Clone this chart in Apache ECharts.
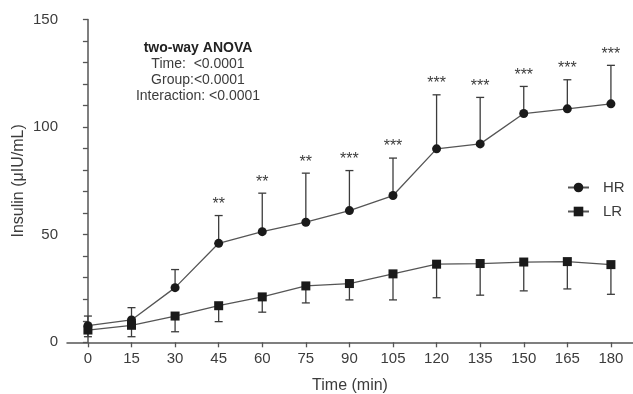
<!DOCTYPE html>
<html>
<head>
<meta charset="utf-8">
<script src="https://cdn.jsdelivr.net/npm/echarts@6/dist/echarts.min.js"></script>
<style>
  html, body { margin: 0; padding: 0; background: #fff; }
  #chart { width: 633px; height: 394px; }
</style>
</head>
<body>
<div id="chart"></div>
<script>
// sampling times (min)
const times = [0, 15, 30, 45, 60, 75, 90, 105, 120, 135, 150, 165, 180];
// HR group: mean and mean + SD
const hrMean = [7.7, 10.4, 25.4, 46.0, 51.4, 55.8, 61.2, 68.2, 89.9, 92.2, 106.3, 108.5, 110.8];
const hrUpper = [12.2, 16.1, 33.8, 58.9, 69.3, 78.6, 79.8, 85.6, 115.0, 113.8, 118.9, 122.0, 128.7];
// LR group: mean and mean - SD
const lrMean = [5.7, 7.9, 12.2, 17.0, 21.1, 26.2, 27.3, 31.8, 36.3, 36.6, 37.3, 37.5, 36.1];
const lrLower = [2.6, 2.6, 4.9, 9.6, 14.0, 18.3, 19.7, 19.7, 20.7, 21.9, 23.9, 24.8, 22.3];
// significance marks above HR
const stars = ['', '', '', '**', '**', '**', '***', '***', '***', '***', '***', '***', '***'];
const yLabels = [0, 50, 100, 150];
const anovaLines = ['Time:  <0.0001', 'Group:<0.0001', 'Interaction: <0.0001'];

const chart = echarts.init(document.getElementById('chart'));
const ink = '#3c3c3c';
const font = 'Liberation Sans, Arial, sans-serif';

function errorBar(params, api) {
  const x = api.value(0);
  const a = api.coord([x, api.value(1)]);
  const b = api.coord([x, api.value(2)]);
  const half = 4;
  return {
    type: 'group',
    children: [
      { type: 'line', shape: { x1: a[0], y1: a[1], x2: b[0], y2: b[1] }, style: { stroke: ink, lineWidth: 1.3 } },
      { type: 'line', shape: { x1: b[0] - half, y1: b[1], x2: b[0] + half, y2: b[1] }, style: { stroke: ink, lineWidth: 1.3 } }
    ]
  };
}

function starText(params, api) {
  const p = api.coord([api.value(0), api.value(1)]);
  return {
    type: 'text',
    style: {
      text: stars[params.dataIndex],
      x: p[0], y: p[1] - 11,
      align: 'center', verticalAlign: 'middle',
      fill: ink, fontSize: 16, fontFamily: font
    }
  };
}

const option = {
  animation: false,
  textStyle: { fontFamily: font },
  grid: { left: 67, right: 0, top: 19.5, bottom: 51.7, outerBoundsMode: 'none' },
  legend: {
    data: ['HR', 'LR'],
    orient: 'vertical',
    left: 562,
    top: 175,
    itemWidth: 21,
    itemHeight: 12,
    itemGap: 9,
    textStyle: { fontSize: 15, color: ink, fontFamily: font, padding: [0, 0, 0, 9] }
  },
  graphic: [
    {
      type: 'text',
      style: { text: 'two-way ANOVA', x: 198, y: 48, align: 'center', verticalAlign: 'middle', fontSize: 14, fontWeight: 'bold', fill: '#222', fontFamily: font }
    },
    ...anovaLines.map((t, i) => ({
      type: 'text',
      style: { text: t, x: 198, y: 64 + i * 16, align: 'center', verticalAlign: 'middle', fontSize: 14, fill: ink, fontFamily: font }
    }))
  ],
  xAxis: {
    type: 'value',
    min: -7.2,
    max: 187.6,
    name: 'Time (min)',
    nameLocation: 'middle',
    nameGap: 35,
    nameTextStyle: { fontSize: 16, color: ink },
    axisLine: { show: true, lineStyle: { color: '#555', width: 1.5 } },
    axisTick: { show: true, length: 5, customValues: times, lineStyle: { color: '#555', width: 1.3 } },
    axisLabel: { customValues: times, margin: 9, fontSize: 15, color: ink },
    splitLine: { show: false }
  },
  yAxis: {
    type: 'value',
    min: 0,
    max: 150,
    interval: 10,
    name: 'Insulin (μIU/mL)',
    nameLocation: 'middle',
    nameGap: 40,
    nameMoveOverlap: false,
    nameTextStyle: { fontSize: 16, color: ink },
    axisLine: { show: true, lineStyle: { color: '#555', width: 1.5 } },
    axisTick: { show: true, length: 5, lineStyle: { color: '#555', width: 1.3 } },
    axisLabel: { customValues: yLabels, margin: 9, fontSize: 15, color: ink },
    splitLine: { show: false }
  },
  series: [
    {
      type: 'custom', name: 'hrErr', z: 1,
      renderItem: errorBar,
      data: times.map((t, i) => [t, hrMean[i], hrUpper[i]])
    },
    {
      type: 'custom', name: 'lrErr', z: 1,
      renderItem: errorBar,
      data: times.map((t, i) => [t, lrMean[i], lrLower[i]])
    },
    {
      type: 'custom', name: 'stars', z: 1,
      renderItem: starText,
      data: times.map((t, i) => [t, hrUpper[i]])
    },
    {
      name: 'HR', type: 'line', z: 3,
      data: times.map((t, i) => [t, hrMean[i]]),
      symbol: 'circle', symbolSize: 9,
      itemStyle: { color: '#1a1a1a' },
      lineStyle: { color: '#555', width: 1.3 }
    },
    {
      name: 'LR', type: 'line', z: 3,
      data: times.map((t, i) => [t, lrMean[i]]),
      symbol: 'rect', symbolSize: 9,
      itemStyle: { color: '#1a1a1a' },
      lineStyle: { color: '#555', width: 1.3 }
    }
  ]
};
chart.setOption(option);
</script>
</body>
</html>
